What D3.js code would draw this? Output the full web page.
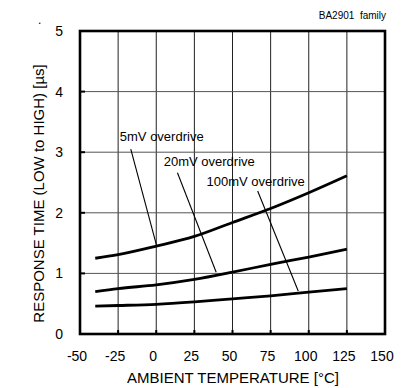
<!DOCTYPE html>
<html><head><meta charset="utf-8">
<script src="https://cdn.jsdelivr.net/npm/d3@7"></script>
<style>body{margin:0;background:#fff}text{font-family:"Liberation Sans",Arial,sans-serif;fill:#000}</style>
</head><body><svg id="c" width="405" height="388"></svg>
<script>
const temps=[-40,-25,0,25,50,75,100,125];
const od5=[1.25,1.31,1.45,1.61,1.84,2.07,2.33,2.61];
const od20=[0.70,0.75,0.81,0.90,1.02,1.15,1.27,1.40];
const od100=[0.46,0.47,0.49,0.53,0.58,0.63,0.69,0.75];
const xTicks=[-50,-25,0,25,50,75,100,125,150];
const yTicks=[0,1,2,3,4,5];
const labels=["5mV overdrive","20mV overdrive","100mV overdrive"];
const labelPos=[[-23.9,3.18],[4.9,2.77],[33,2.44]];
const leaderFrom=[[-16.7,3.05],[13.9,2.66],[66.5,2.36]];
const leaderTo=[[0.1,1.47],[39.3,1.02],[93.1,0.71]];
const title="BA2901\u00a0\u00a0family";
const xTitle="AMBIENT TEMPERATURE [°C]";
const yTitle="RESPONSE TIME (LOW to HIGH) [µs]";

const svg=d3.select("#c");
const L=80,R=385,T=31,B=334;
const x=d3.scaleLinear().domain([-50,150]).range([L,R]);
const y=d3.scaleLinear().domain([0,5]).range([B,T]);

// grid
svg.append("g").selectAll("line").data(xTicks.slice(1,-1)).join("line")
 .attr("x1",d=>x(d)).attr("x2",d=>x(d)).attr("y1",T).attr("y2",B)
 .attr("stroke","#222").attr("stroke-width",1);
svg.append("g").selectAll("line").data(yTicks.slice(1,-1)).join("line")
 .attr("y1",d=>y(d)).attr("y2",d=>y(d)).attr("x1",L).attr("x2",R)
 .attr("stroke","#555").attr("stroke-width",1);
// inner ticks
svg.append("g").selectAll("line").data(xTicks.slice(1,-1)).join("line")
 .attr("x1",d=>x(d)).attr("x2",d=>x(d)).attr("y1",B-4).attr("y2",B)
 .attr("stroke","#000").attr("stroke-width",2);
svg.append("g").selectAll("line").data(yTicks.slice(1,-1)).join("line")
 .attr("y1",d=>y(d)).attr("y2",d=>y(d)).attr("x1",L).attr("x2",L+5)
 .attr("stroke","#000").attr("stroke-width",2);
// frame
svg.append("rect").attr("x",L).attr("y",T).attr("width",R-L).attr("height",B-T)
 .attr("fill","none").attr("stroke","#000").attr("stroke-width",2.6);

// tick labels
svg.append("g").selectAll("text").data(xTicks).join("text")
 .attr("x",d=>x(d)-3).attr("y",361).attr("text-anchor","middle")
 .attr("font-size",14).text(d=>d);
svg.append("g").selectAll("text").data(yTicks).join("text")
 .attr("x",63).attr("y",d=>y(d)+5).attr("text-anchor","end")
 .attr("font-size",14).text(d=>d);

// titles
svg.append("text").attr("x",233).attr("y",383).attr("text-anchor","middle").attr("font-size",15).text(xTitle);
svg.append("text").attr("transform","translate(44,193.5) rotate(-90)").attr("text-anchor","middle").attr("font-size",15).text(yTitle);
svg.append("text").attr("x",386).attr("y",19).attr("text-anchor","end").attr("font-size",10).text(title);
svg.append("text").attr("x",38).attr("y",24).attr("font-size",12).text(".");

// curves
const line=d3.line().x(d=>x(d[0])).y(d=>y(d[1])).curve(d3.curveMonotoneX);
[od5,od20,od100].forEach(s=>{
 svg.append("path").datum(temps.map((t,i)=>[t,s[i]])).attr("d",line)
  .attr("fill","none").attr("stroke","#000").attr("stroke-width",2.8);
});

// annotations
svg.append("g").selectAll("line").data(labels).join("line")
 .attr("x1",(d,i)=>x(leaderFrom[i][0])).attr("y1",(d,i)=>y(leaderFrom[i][1]))
 .attr("x2",(d,i)=>x(leaderTo[i][0])).attr("y2",(d,i)=>y(leaderTo[i][1]))
 .attr("stroke","#000").attr("stroke-width",1.1);
svg.append("g").selectAll("text").data(labels).join("text")
 .attr("x",(d,i)=>x(labelPos[i][0])).attr("y",(d,i)=>y(labelPos[i][1]))
 .attr("font-size",13).text(d=>d);
</script></body></html>
